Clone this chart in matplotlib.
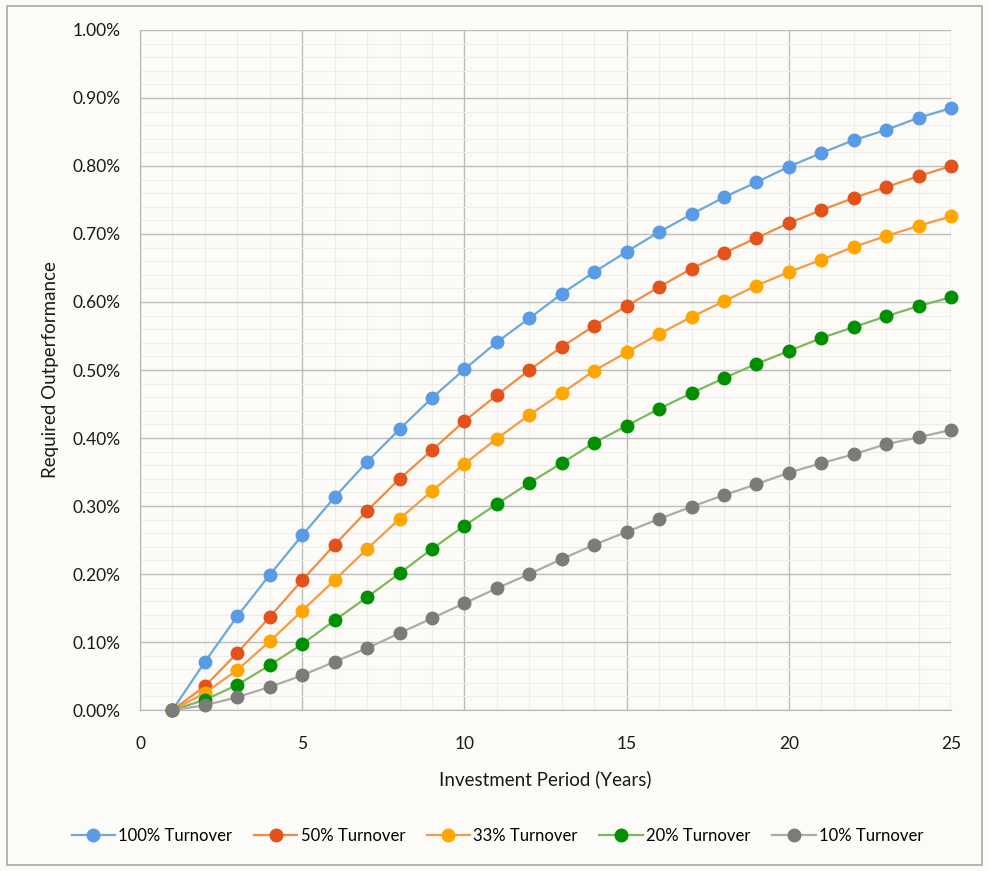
import matplotlib.pyplot as plt
from matplotlib.patches import Rectangle
from matplotlib.ticker import MultipleLocator, FuncFormatter

plt.rcParams['font.family'] = ['Lato', 'DejaVu Sans']

years = list(range(1, 26))
turnover_100 = [0.000, 0.071, 0.138, 0.199, 0.257, 0.313, 0.365, 0.413, 0.459, 0.501,
                0.541, 0.576, 0.612, 0.644, 0.674, 0.703, 0.729, 0.754, 0.776, 0.799,
                0.819, 0.838, 0.853, 0.871, 0.885]
turnover_50 = [0.000, 0.035, 0.084, 0.137, 0.191, 0.243, 0.293, 0.340, 0.382, 0.425,
               0.463, 0.500, 0.534, 0.565, 0.594, 0.622, 0.649, 0.672, 0.694, 0.716,
               0.735, 0.753, 0.769, 0.785, 0.800]
turnover_33 = [0.000, 0.025, 0.059, 0.101, 0.146, 0.191, 0.237, 0.281, 0.322, 0.362,
               0.399, 0.434, 0.466, 0.499, 0.526, 0.553, 0.578, 0.601, 0.624, 0.644,
               0.662, 0.681, 0.697, 0.712, 0.726]
turnover_20 = [0.000, 0.015, 0.037, 0.066, 0.097, 0.132, 0.166, 0.201, 0.237, 0.271,
               0.303, 0.334, 0.363, 0.393, 0.418, 0.443, 0.466, 0.488, 0.509, 0.528,
               0.547, 0.563, 0.579, 0.594, 0.607]
turnover_10 = [0.000, 0.007, 0.019, 0.034, 0.051, 0.071, 0.091, 0.113, 0.135, 0.157,
               0.179, 0.200, 0.222, 0.243, 0.262, 0.281, 0.299, 0.316, 0.332, 0.349,
               0.363, 0.376, 0.391, 0.401, 0.412]

series = [
    ('100% Turnover', turnover_100, '#6AAAD9', '#5A9BE6'),
    ('50% Turnover', turnover_50, '#F08C40', '#E2521A'),
    ('33% Turnover', turnover_33, '#F49A48', '#FFA600'),
    ('20% Turnover', turnover_20, '#7CB95A', '#009000'),
    ('10% Turnover', turnover_10, '#ABABAB', '#7B7B79'),
]

bg = '#FCFBF7'
fig = plt.figure(figsize=(9.89, 8.71), dpi=100, facecolor=bg)
fig.patches.append(Rectangle((0.007, 0.007), 0.986, 0.986, transform=fig.transFigure,
                             fill=False, edgecolor='#A8A8A8', linewidth=1.2))

ax = fig.add_axes([0.1416, 0.1848, 0.82, 0.7808])
ax.set_facecolor(bg)

for label, vals, lc, mc in series:
    ax.plot(years, vals, color=lc, linewidth=1.6, marker='o', markersize=9,
            markerfacecolor=mc, markeredgecolor=mc, label=label, zorder=3,
            clip_on=False)

ax.set_xlim(0, 25)
ax.set_ylim(0, 1.0)
ax.xaxis.set_major_locator(MultipleLocator(5))
ax.xaxis.set_minor_locator(MultipleLocator(1))
ax.yaxis.set_major_locator(MultipleLocator(0.1))
ax.yaxis.set_minor_locator(MultipleLocator(0.02))
ax.yaxis.set_major_formatter(FuncFormatter(lambda v, p: f'{v:.2f}%'))

ax.grid(which='major', color='#BDBDBD', linewidth=1.0, zorder=0)
ax.grid(which='minor', color='#EEEDE8', linewidth=0.8, zorder=0)
ax.tick_params(which='both', length=0, labelsize=12.5, colors='#1a1a1a')
ax.tick_params(axis='x', pad=19)
ax.tick_params(axis='y', pad=14)
for s in ['top', 'right']:
    ax.spines[s].set_visible(False)
for s in ['left', 'bottom']:
    ax.spines[s].set_color('#B5B5B5')

ax.set_xlabel('Investment Period (Years)', fontsize=13.5, labelpad=13, color='#1a1a1a')
ax.set_ylabel('Required Outperformance', fontsize=13.5, labelpad=10, color='#1a1a1a')

fig.legend(loc='center', bbox_to_anchor=(0.503, 0.04), ncol=5, frameon=False,
           fontsize=12, handlelength=2.6, columnspacing=1.3, handletextpad=0.2)

fig.savefig('out.png', dpi=100, facecolor=bg)
